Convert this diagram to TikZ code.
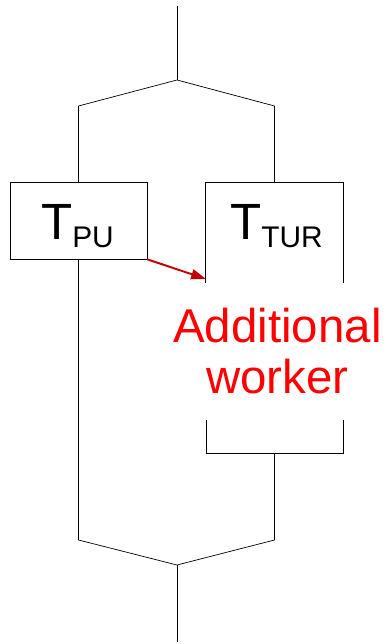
\documentclass[tikz,border=0pt]{standalone}
\usepackage{fontspec}
\setmainfont{Liberation Sans}
\usetikzlibrary{arrows.meta,calc}
\definecolor{flowred}{HTML}{C00000}
\definecolor{workred}{HTML}{FF0000}
\tikzset{line width=1pt,
  every node/.style={inner sep=0pt},
  taskbox/.style={draw,minimum width=2.74cm,minimum height=1.54cm},
  openframe/.style={minimum width=2.74cm,minimum height=2cm},
  tasklabel/.style={anchor=base,font=\fontsize{29}{32}\selectfont},
  handoff/.style={-{Triangle[length=8.5pt,width=5.7pt]},draw=flowred,fill=flowred,line width=1.1pt}}
\newcommand{\sublbl}[1]{\raisebox{-4.5pt}{\fontsize{17}{19}\selectfont #1}}

\begin{document}
\begin{tikzpicture}[x=0.02cm,y=-0.02cm]
\useasboundingbox (0,0) rectangle (386,644);
% fork at the top
\coordinate (in) at (177,6);
\coordinate (split) at (177,80);
\coordinate (lt) at (78.5,106);
\coordinate (rt) at (274.5,106);
% the two tasks
\node[taskbox] (tpu) at (78.5,220.5) {};
\node[tasklabel] (tpulbl) at (77.5,240) {T\sublbl{PU}};
\node[openframe,anchor=north] (tur) at (274.5,182) {};
\node[tasklabel] (turlbl) at (276.5,240) {T\sublbl{TUR}};
\draw (tur.south west) -- (tur.north west) -- (tur.north east) -- (tur.south east);
\node[font=\fontsize{27}{29}\selectfont,text=workred,align=center] (extra) at (277.5,351) {Additional\\worker};
% bracket under the worker
\coordinate (wl) at (206,420);
\coordinate (wbl) at (206,453);
\coordinate (wbr) at (343,453);
\coordinate (wr) at (343,420);
\coordinate (wmid) at (274.5,453);
% join at the bottom
\coordinate (lb) at (78.5,540);
\coordinate (rb) at (274.5,540);
\coordinate (join) at (177,565);
\coordinate (out) at (177,642);
\coordinate (handin) at (206,279);
\draw (in) -- (split);
\draw (lt) -- (split) -- (rt);
\draw (lt) -- (tpu.north);
\draw (rt) -- (tur.north);
\draw (wl) -- (wbl) -- (wbr) -- (wr);
\draw (wmid) -- (rb) -- (join) -- (lb) -- (tpu.south);
\draw (join) -- (out);
\draw[handoff] (tpu.south east) -- (handin);
\end{tikzpicture}
\end{document}
